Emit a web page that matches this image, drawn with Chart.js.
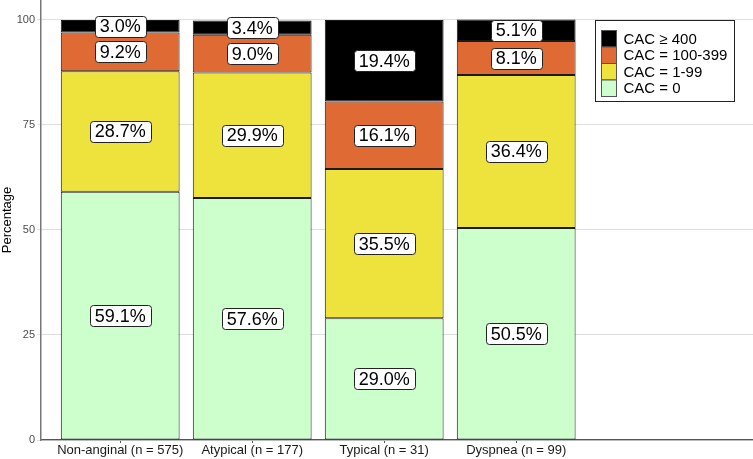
<!DOCTYPE html>
<html>
<head>
<meta charset="utf-8">
<script src="https://cdn.jsdelivr.net/npm/chart.js@4"></script>
<style>
  html, body { margin: 0; padding: 0; background: #fff; }
  canvas { display: block; }
</style>
</head>
<body>
<canvas id="cacChart" width="753" height="459"></canvas>
<script>
/* ================= DATA ================= */
const categories = ["Non-anginal (n = 575)", "Atypical (n = 177)", "Typical (n = 31)", "Dyspnea (n = 99)"];
const seriesNames = ["CAC = 0", "CAC = 1-99", "CAC = 100-399", "CAC \u2265 400"];
const cac0 = [59.1, 57.6, 29.0, 50.5];
const cac1to99 = [28.7, 29.9, 35.5, 36.4];
const cac100to399 = [9.2, 9.0, 16.1, 8.1];
const cac400 = [3.0, 3.4, 19.4, 5.1];
const yTicks = [0, 25, 50, 75, 100];

const colors = ["#CCFFCC", "#EDE33C", "#E06A33", "#000000"];
const FONT = '"Liberation Sans", Arial, sans-serif';

/* ================= HELPERS ================= */
function toPoints(values) {
    return values.map((v, i) => ({ x: i, y: v }));
}

/* ================= LABEL PLUGIN ================= */
const boxLabels = {
    id: "boxLabels",
    afterDatasetsDraw(chart) {
        const ctx = chart.ctx;
        ctx.save();
        ctx.font = "18px " + FONT;
        ctx.textAlign = "center";
        ctx.textBaseline = "middle";
        chart.data.datasets.forEach((ds, di) => {
            const meta = chart.getDatasetMeta(di);
            meta.data.forEach((bar, i) => {
                const text = ds.data[i].y.toFixed(1) + "%";
                const cx = bar.x;
                const cy = (bar.y + bar.base) / 2;
                const w = ctx.measureText(text).width + 10;
                const h = 21;
                ctx.beginPath();
                ctx.roundRect(Math.round(cx - w / 2) + 0.5, Math.round(cy - h / 2) + 0.5, Math.round(w), h, 3);
                ctx.fillStyle = "#ffffff";
                ctx.fill();
                ctx.lineWidth = 1;
                ctx.strokeStyle = "#222222";
                ctx.stroke();
                ctx.fillStyle = "#000000";
                ctx.fillText(text, cx, cy + 1);
            });
        });
        ctx.restore();
    }
};

/* ================= LEGEND PLUGIN ================= */
const insideLegend = {
    id: "insideLegend",
    afterDraw(chart) {
        const ctx = chart.ctx;
        const xs = chart.scales.x;
        const ys = chart.scales.y;
        const left = Math.round(xs.getPixelForValue(3.6)) + 0.5;
        const top = Math.round(ys.getPixelForValue(100)) + 0.5;
        const items = chart.data.datasets.slice().reverse();
        const rowH = 16.5;
        ctx.save();
        ctx.fillStyle = "#ffffff";
        ctx.fillRect(left, top, 139, 81);
        ctx.lineWidth = 1;
        ctx.strokeStyle = "#222222";
        ctx.strokeRect(left, top, 139, 81);
        ctx.font = "15px " + FONT;
        ctx.textBaseline = "middle";
        ctx.textAlign = "left";
        items.forEach((ds, i) => {
            const ky = top + 10 + i * rowH;
            ctx.fillStyle = ds.backgroundColor;
            ctx.fillRect(left + 6, ky, 15, rowH);
            ctx.strokeStyle = "#555555";
            ctx.strokeRect(left + 6, ky, 15, rowH);
            ctx.fillStyle = "#000000";
            ctx.fillText(ds.label, left + 28, ky + rowH / 2 + 1);
        });
        ctx.restore();
    }
};

/* ================= CHART ================= */
const seriesValues = [cac0, cac1to99, cac100to399, cac400];

new Chart(document.getElementById("cacChart"), {
    type: "bar",
    data: {
        datasets: seriesValues.map((vals, i) => ({
            label: seriesNames[i],
            data: toPoints(vals),
            backgroundColor: colors[i],
            borderColor: "#1a1a1a",
            borderWidth: 1,
            borderSkipped: false,
            categoryPercentage: 1,
            barPercentage: 0.9
        }))
    },
    options: {
        responsive: false,
        animation: false,
        layout: { padding: 0 },
        plugins: {
            legend: { display: false },
            tooltip: { enabled: false }
        },
        scales: {
            x: {
                type: "linear",
                stacked: true,
                offset: false,
                min: -0.6,
                max: 4.794,
                afterBuildTicks: s => { s.ticks = categories.map((c, i) => ({ value: i })); },
                afterFit: s => { s.height = 19; s.paddingLeft = 0; s.paddingRight = 0; },
                ticks: {
                    autoSkip: false,
                    maxRotation: 0,
                    padding: 0,
                    color: "#1a1a1a",
                    font: { family: FONT, size: 13 },
                    callback: v => categories[v] || ""
                },
                grid: {
                    offset: false,
                    drawOnChartArea: false,
                    drawTicks: true,
                    tickLength: 3,
                    tickColor: "#555555"
                },
                border: { color: "#555555", width: 1.3 }
            },
            y: {
                stacked: true,
                min: 0,
                max: 104.76,
                afterBuildTicks: s => { s.ticks = yTicks.map(v => ({ value: v })); },
                afterFit: s => { s.width = 41; s.paddingTop = 0; s.paddingBottom = 0; },
                ticks: {
                    padding: 2,
                    color: "#4d4d4d",
                    font: { family: FONT, size: 11 }
                },
                grid: {
                    color: "#DEDEDE",
                    lineWidth: 1,
                    tickLength: 4,
                    tickColor: "#DEDEDE"
                },
                border: { color: "#777777", width: 1.5 },
                title: {
                    display: true,
                    text: "Percentage",
                    color: "#000000",
                    padding: { top: 0, bottom: 0 },
                    font: { family: FONT, size: 13 }
                }
            }
        }
    },
    plugins: [boxLabels, insideLegend]
});
</script>
</body>
</html>
